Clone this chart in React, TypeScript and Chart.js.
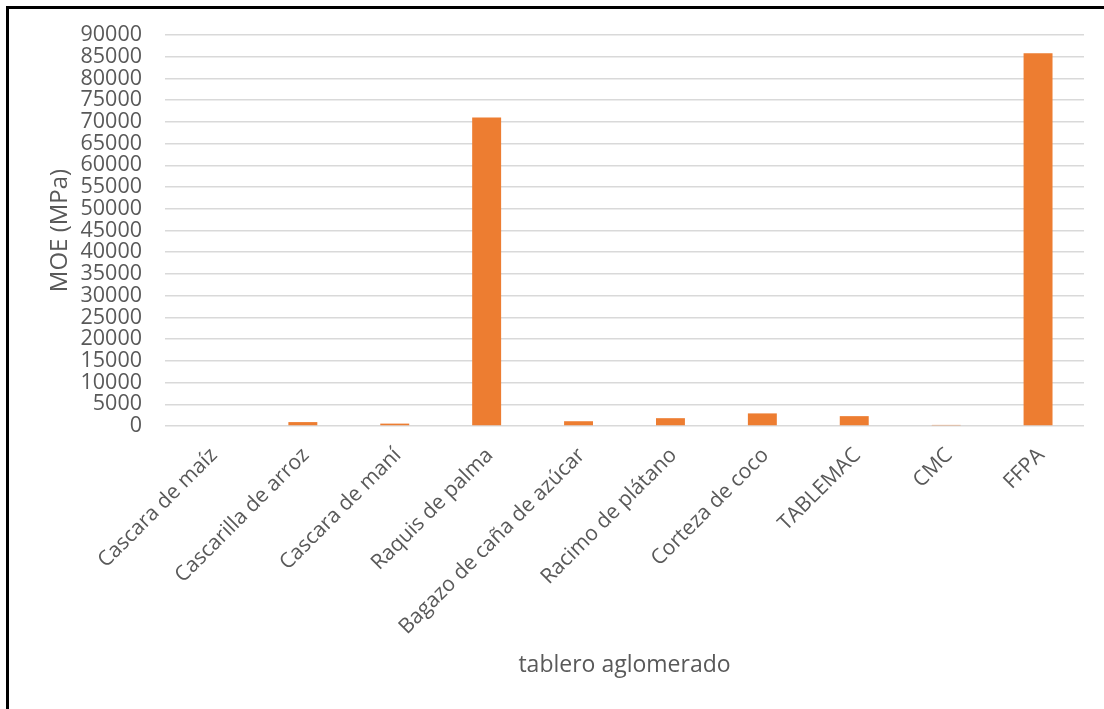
import React, { useEffect, useRef } from "react";
import { Chart, registerables } from "chart.js";

Chart.register(...registerables);

const categories = [
  "Cascara de maíz",
  "Cascarilla de arroz",
  "Cascara de maní",
  "Raquis de palma",
  "Bagazo de caña de azúcar",
  "Racimo de plátano",
  "Corteza de coco",
  "TABLEMAC",
  "CMC",
  "FFPA",
];
const moeValues = [0, 900, 550, 71000, 1100, 1800, 2900, 2270, 250, 85800];
const yTitle = "MOE (MPa)";
const xTitle = "tablero aglomerado";

const FONT = "'Open Sans', sans-serif";
const TEXT = "#595959";

const borderPlugin = {
  id: "outerBorder",
  afterDraw(chart: any) {
    const ctx = chart.ctx;
    ctx.save();
    ctx.strokeStyle = "#000";
    ctx.lineWidth = 3;
    ctx.beginPath();
    ctx.moveTo(7.5, 760);
    ctx.lineTo(7.5, 7.5);
    ctx.lineTo(1200, 7.5);
    ctx.stroke();
    ctx.restore();
  },
};

export default function App() {
  const ref = useRef<HTMLCanvasElement | null>(null);
  useEffect(() => {
    document.body.style.margin = "0";
    const canvas = ref.current!;
    const chart = new Chart(canvas, {
      type: "bar",
      data: {
        labels: categories,
        datasets: [
          {
            data: moeValues,
            backgroundColor: "#ED7D31",
            borderWidth: 0,
            barPercentage: 0.315,
            categoryPercentage: 1,
          },
        ],
      },
      options: {
        animation: false,
        responsive: false,
        maintainAspectRatio: false,
        layout: { padding: { left: 0, top: 35, right: 20, bottom: 0 } },
        plugins: {
          legend: { display: false },
          tooltip: { enabled: false },
        },
        scales: {
          x: {
            grid: { display: false, drawTicks: false },
            border: { display: false },
            ticks: {
              color: TEXT,
              font: { family: FONT, size: 21 },
              minRotation: 45,
              maxRotation: 45,
              autoSkip: false,
              padding: 17,
              labelOffset: 3,
            },
            title: {
              display: true,
              text: xTitle,
              color: TEXT,
              font: { family: FONT, size: 23 },
              padding: { top: 0, bottom: 30 },
            },
            afterFit(scale: any) {
              scale.height = 709 - 426;
            },
          },
          y: {
            min: 0,
            max: 90000,
            grid: { color: "#d9d9d9", lineWidth: 1.5, drawTicks: false },
            border: { display: false },
            ticks: {
              stepSize: 5000,
              autoSkip: false,
              color: TEXT,
              font: { family: FONT, size: 21.5, lineHeight: 1 },
              padding: 23,
              callback: (v: any) => String(v),
            },
            title: {
              display: true,
              text: yTitle,
              color: TEXT,
              font: { family: FONT, size: 24 },
              padding: { top: 46, bottom: 0 },
            },
            afterFit(scale: any) {
              scale.width = 165;
            },
          },
        },
      },
      plugins: [borderPlugin],
    });
    return () => chart.destroy();
  }, []);
  return (
    <div style={{ width: 1104, height: 709, background: "#fff" }}>
      <canvas ref={ref} width={1104} height={709} style={{ display: "block" }} />
    </div>
  );
}
